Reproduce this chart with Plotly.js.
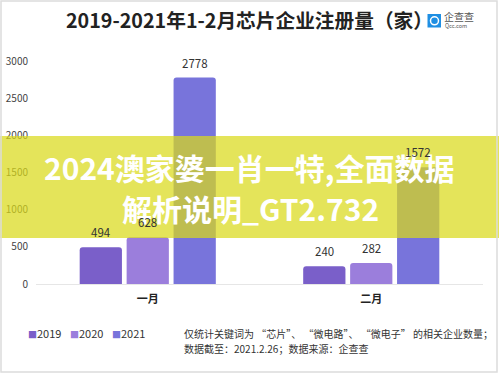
<!DOCTYPE html>
<html><head><meta charset="utf-8">
<script src="https://cdn.plot.ly/plotly-3.0.1.min.js"></script>
<style>html,body{margin:0;padding:0;background:#fff}#c{width:499px;height:374px}</style>
</head><body><div id="c"></div>
<script>
const categories = ['一月', '二月'];
const years = ['2019', '2020', '2021'];
const v2019 = [494, 240];
const v2020 = [628, 282];
const v2021 = [2778, 1572];
const colors = ['#7a5fc9', '#9b7edc', '#7874db'];
const yTicks = [0, 500, 1000, 1500, 2000, 2500, 3000];

const W = 499, H = 374;
const M = {l: 36, r: 16, t: 61, b: 90};
const pw = W - M.l - M.r, ph = H - M.t - M.b;
const px = x => (x - M.l) / pw;
const py = y => (H - M.b - y) / ph;

const font = '"Noto Sans CJK SC", "Noto Sans", sans-serif';
const series = [v2019, v2020, v2021];
const bargap = 0.37, bargroupgap = 0.1;
const catPx = pw / categories.length;
const pitch = catPx * (1 - bargap) / series.length;

const traces = series.map((vals, i) => ({
  type: 'bar', name: years[i], x: categories, y: vals,
  marker: {color: colors[i]},
  showlegend: false, hoverinfo: 'skip'
}));

const annotations = [
  {xref: 'paper', yref: 'paper', x: px(249), y: py(20), text: '<b>2019-2021年1-2月芯片企业注册量（家）</b>',
   showarrow: false, font: {size: 19.7, color: '#222', family: font}, xanchor: 'center', yanchor: 'middle'},
  {xref: 'paper', yref: 'paper', x: px(443), y: py(16), text: '企查查', showarrow: false, borderpad: 0,
   font: {size: 10, color: '#555', family: font}, xanchor: 'left', yanchor: 'middle'},
  {xref: 'paper', yref: 'paper', x: px(444), y: py(25.5), text: 'Qcc.com', showarrow: false, borderpad: 0,
   font: {size: 5.5, color: '#555', family: font}, xanchor: 'left', yanchor: 'middle'},
  {xref: 'paper', yref: 'paper', x: px(182), y: py(333), text: '仅统计关键词为 “芯片”、 “微电路”、 “微电子” 的相关企业数量；',
   showarrow: false, font: {size: 10, color: '#333', family: font}, xanchor: 'left', yanchor: 'middle'},
  {xref: 'paper', yref: 'paper', x: px(182), y: py(348), text: '数据截至：2021.2.26；数据来源：企查查',
   showarrow: false, font: {size: 10, color: '#333', family: font}, xanchor: 'left', yanchor: 'middle'},
  {xref: 'paper', yref: 'paper', x: px(249), y: py(167), text: '<b>2024澳家婆一肖一特,全面数据</b>',
   showarrow: false, font: {size: 30, color: '#ffffff', family: font}, xanchor: 'center', yanchor: 'middle'},
  {xref: 'paper', yref: 'paper', x: px(250), y: py(208), text: '<b>解析说明_GT2.732</b>',
   showarrow: false, font: {size: 30, color: '#ffffff', family: font}, xanchor: 'center', yanchor: 'middle'}
];
// value labels placed through the axes, above each bar
series.forEach((vals, i) => {
  vals.forEach((v, j) => {
    annotations.push({xref: 'x', yref: 'y', x: categories[j], y: v, text: String(v),
      showarrow: false, xshift: (i - 1) * pitch, yshift: 5, yanchor: 'bottom', xanchor: 'center',
      font: {size: 11.5, color: '#333', family: font}});
  });
});
const legendX = [26, 68, 110];
years.forEach((yr, i) => {
  annotations.push({xref: 'paper', yref: 'paper', x: px(legendX[i]), y: py(333),
    text: '<span style="color:' + colors[i] + ';font-size:9px">■</span>' + yr,
    showarrow: false, font: {size: 11, color: '#333', family: font}, xanchor: 'left', yanchor: 'middle'});
});

const shapes = [
  {type: 'rect', xref: 'paper', yref: 'paper', x0: px(0), x1: px(499), y0: py(136), y1: py(238),
   fillcolor: 'rgba(218,218,26,0.72)', line: {width: 0}, layer: 'above'},
  {type: 'rect', xref: 'paper', yref: 'paper', x0: px(427.5), x1: px(441), y0: py(14), y1: py(27.5),
   fillcolor: '#1f8fe3', line: {width: 0}},
  {type: 'circle', xref: 'paper', yref: 'paper', x0: px(430.5), x1: px(438.5), y0: py(16.8), y1: py(24.8),
   fillcolor: 'rgba(0,0,0,0)', line: {width: 1.5, color: '#fff'}},
  {type: 'rect', xref: 'paper', yref: 'paper', x0: px(1), x1: px(497), y0: py(1), y1: py(372),
   fillcolor: 'rgba(0,0,0,0)', line: {width: 1.5, color: '#dcdcdc'}}
];

const layout = {
  width: W, height: H, margin: M,
  paper_bgcolor: '#fff', plot_bgcolor: '#fff',
  font: {family: font},
  barmode: 'group', bargap: bargap, bargroupgap: bargroupgap, barcornerradius: 3,
  xaxis: {type: 'category', showline: true, linecolor: '#e6e6e6', linewidth: 1, ticks: '',
    tickfont: {size: 11, color: '#222', family: font, weight: 'bold'}, ticklabelstandoff: 5, showgrid: false, zeroline: false},
  yaxis: {range: [0, 3000], tickvals: yTicks, ticktext: yTicks.map(String), showgrid: false, zeroline: false,
    showline: false, ticks: '', tickfont: {size: 10, color: '#444', family: font}, ticklabelstandoff: 7},
  showlegend: false, annotations, shapes
};
Plotly.newPlot('c', traces, layout, {staticPlot: true, displayModeBar: false});
</script></body></html>
